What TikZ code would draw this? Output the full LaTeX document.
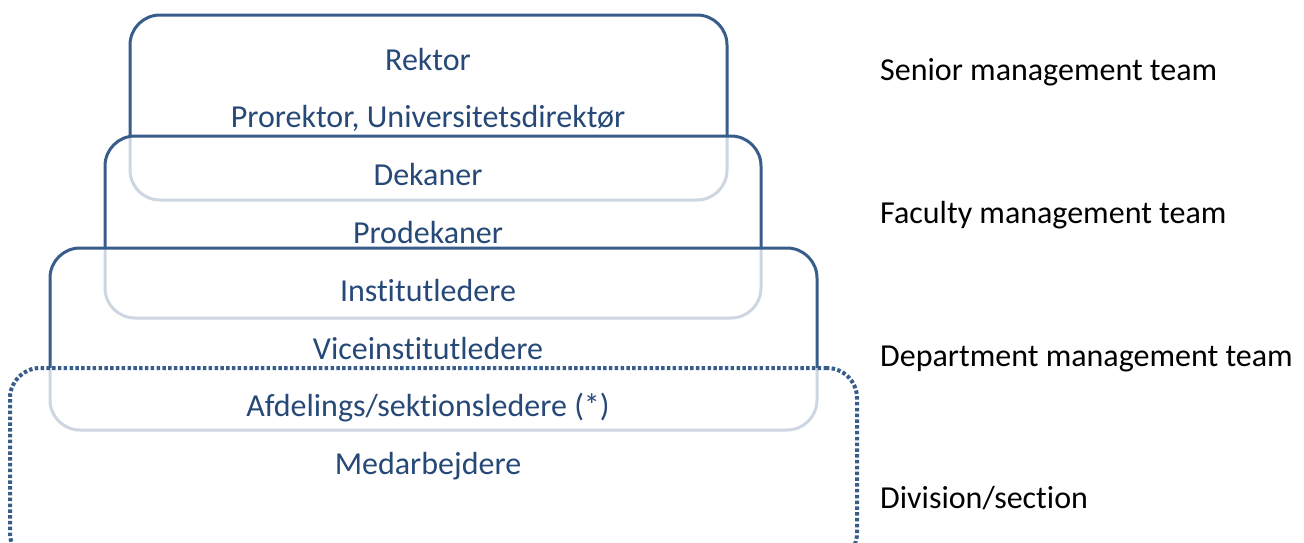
\documentclass[tikz,border=0pt]{standalone}
\usepackage{fontspec}
\setmainfont{Carlito}[Ligatures=NoCommon]
\usetikzlibrary{positioning}
\definecolor{teamline}{RGB}{56,93,138}
\definecolor{teamtext}{RGB}{38,73,120}
\tikzset{
	tier/.style={draw=teamline, line width=3pt, rounded corners=30pt, fill=white,
		fill opacity=0.75, draw opacity=1, inner sep=0pt},
	dotline/.style={line width=4pt, dash pattern=on 3.5pt off 2.3pt},
	role/.style={text=teamtext, font=\fontsize{32}{38}\selectfont, inner sep=0pt, anchor=base},
	team/.style={font=\fontsize{32}{38}\selectfont, inner sep=0pt, anchor=base west}
}

\begin{document}
\begin{tikzpicture}[x=1pt, y=-1pt]
		\useasboundingbox (0,0) rectangle (1304,542);
		\clip (0,0) rectangle (1304,542);
		% nested tiers, each one fades the lower edge of the one before
		\node[tier, minimum width=597pt, minimum height=185pt] (senior) at (428.5,107.5) {};
		\node[tier, minimum width=656pt, minimum height=182pt] (faculty) at (433,227) {};
		\node[tier, minimum width=767pt, minimum height=182pt] (dept) at (433.5,339) {};
		\node[tier, dotline, minimum width=847pt, minimum height=195pt] (division) at (433.5,465.5) {};
		% roles
		\foreach \name/\txt [count=\i] in {rektor/Rektor, prorektor/{Prorektor, Universitetsdirektør},
			dekaner/Dekaner, prodekaner/Prodekaner, instleder/Institutledere,
			viceleder/Viceinstitutledere, afdleder/{Afdelings/sektionsledere (*)}, medarb/Medarbejdere}
			\node[role] (\name) at (428, 70+57.8*\i-57.8) {\txt};
		% team names
		\node[team] (seniorlbl) at (880,80) {Senior management team};
		\node[team] (facultylbl) at (880,223) {Faculty management team};
		\node[team] (deptlbl) at (880,366) {Department management team};
		\node[team] (divisionlbl) at (880,508) {Division/section};
	\end{tikzpicture}
\end{document}
